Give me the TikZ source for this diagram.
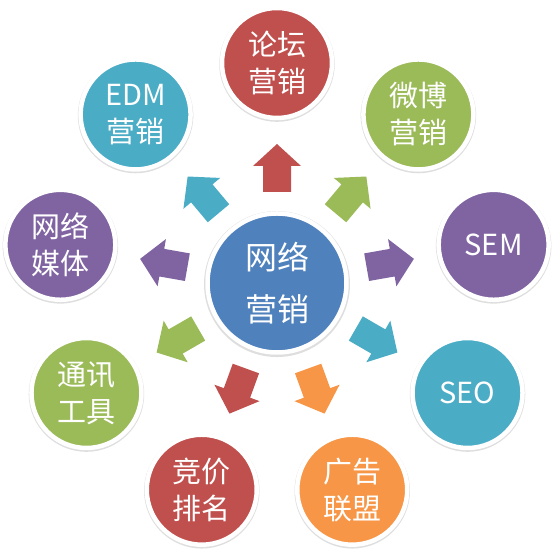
\documentclass[tikz,border=0pt]{standalone}
\usepackage{fontspec}
\setmainfont{Noto Sans CJK SC}
\usetikzlibrary{calc,shadows}
\definecolor{cred}{HTML}{C0504D}
\definecolor{cblue}{HTML}{4F81BD}
\definecolor{cteal}{HTML}{4BACC6}
\definecolor{cgreen}{HTML}{9BBB59}
\definecolor{cpurple}{HTML}{8064A2}
\definecolor{corange}{HTML}{F79646}
\tikzset{
  bub/.style={circle, fill=#1, draw=white, line width=4.5pt, minimum size=110pt,
    inner sep=0pt, text=white, align=center, font=\fontsize{29}{37}\selectfont,
    general shadow={fill=black, opacity=0.13, shadow scale=1.05, shadow yshift=-1pt}},
  hub/.style={bub=#1, minimum size=139pt, font=\fontsize{32}{52}\selectfont},
  blockarrow/.pic={\fill[#1] (0,-14) -- (26,-14) -- (26,-24) -- (48,0) -- (26,24) -- (26,14) -- (0,14) -- cycle;}
}
\begin{document}
\begin{tikzpicture}[x=1pt,y=1pt]
\useasboundingbox (0,0) rectangle (560,556);
\node[hub=cblue] (c) at (277,273) {网络\\营销};
\node[bub=cred]    (n1) at ($(c)+(90:220pt)$)   {论坛\\营销};
\node[bub=cgreen]  (n2) at ($(c)+(50:220pt)$)   {微博\\营销};
\node[bub=cpurple] (n3) at ($(c)+(10:220pt)$)   {SEM};
\node[bub=cteal]   (n4) at ($(c)+(-30:220pt)$)  {SEO};
\node[bub=corange] (n5) at ($(c)+(-70:220pt)$)  {广告\\联盟};
\node[bub=cred]    (n6) at ($(c)+(-110:220pt)$) {竞价\\排名};
\node[bub=cgreen]  (n7) at ($(c)+(-150:220pt)$) {通讯\\工具};
\node[bub=cpurple] (n8) at ($(c)+(170:220pt)$)  {网络\\媒体};
\node[bub=cteal]   (n9) at ($(c)+(130:220pt)$)  {EDM\\营销};
\pic[rotate=90]   at ($(c)!91pt!(n1)$) {blockarrow=cred};
\pic[rotate=50]   at ($(c)!91pt!(n2)$) {blockarrow=cgreen};
\pic[rotate=10]   at ($(c)!91pt!(n3)$) {blockarrow=cpurple};
\pic[rotate=-30]  at ($(c)!91pt!(n4)$) {blockarrow=cteal};
\pic[rotate=-70]  at ($(c)!91pt!(n5)$) {blockarrow=corange};
\pic[rotate=-110] at ($(c)!91pt!(n6)$) {blockarrow=cred};
\pic[rotate=-150] at ($(c)!91pt!(n7)$) {blockarrow=cgreen};
\pic[rotate=170]  at ($(c)!91pt!(n8)$) {blockarrow=cpurple};
\pic[rotate=130]  at ($(c)!91pt!(n9)$) {blockarrow=cteal};
\end{tikzpicture}
\end{document}
